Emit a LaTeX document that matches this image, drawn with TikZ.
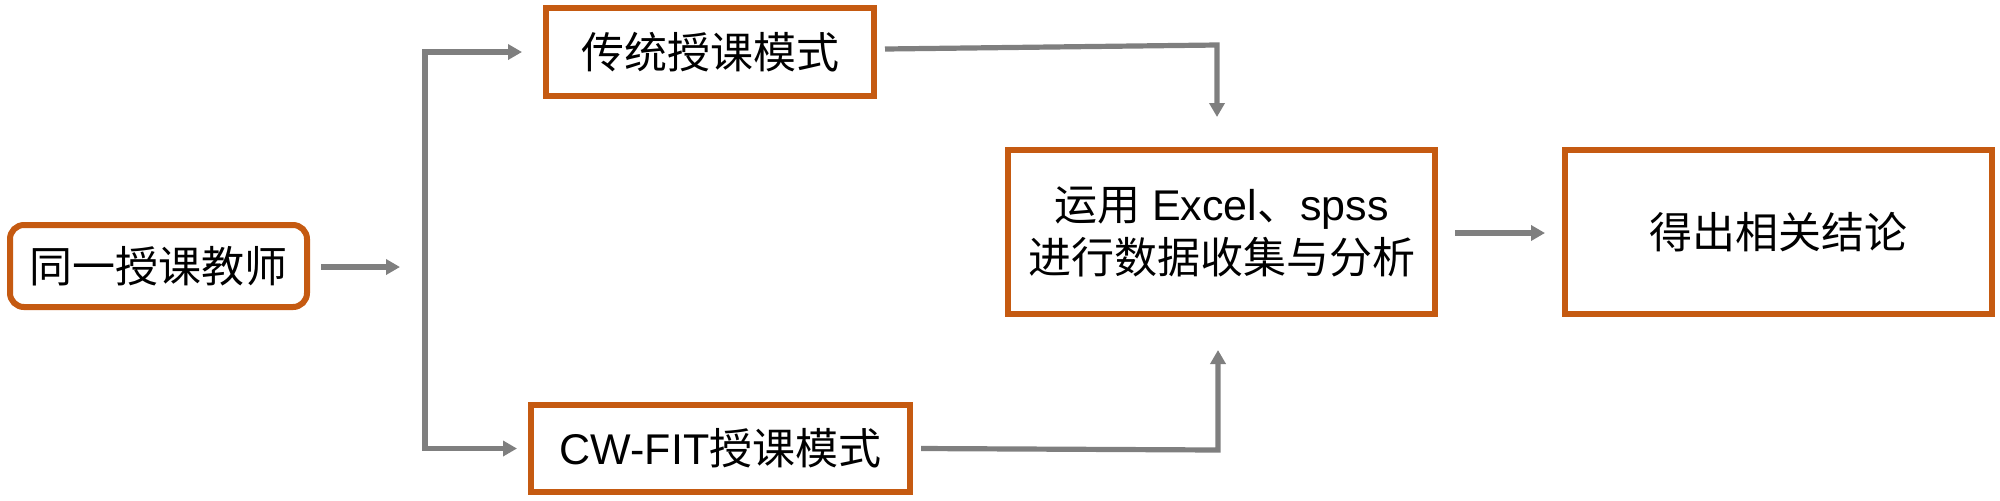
\documentclass[tikz,border=0pt]{standalone}
\usepackage{fontspec}
\setmainfont{Liberation Sans}
\newfontfamily\cjk{Noto Sans CJK SC}
\usetikzlibrary{arrows.meta}
\definecolor{boxorange}{RGB}{197,90,17}
\definecolor{conngray}{RGB}{127,127,127}
\tikzset{
  stepbox/.style={draw=boxorange, line width=3pt, fill=white, inner sep=0pt,
    align=center, font=\fontsize{21.5pt}{26.5pt}\selectfont},
  roundbox/.style={stepbox, rounded corners=7pt},
  conn/.style={draw=conngray, line width=2.6pt, line join=miter,
    -{Triangle[length=7pt,width=7.5pt]}},
  conn2/.style={draw=conngray, line width=2.6pt, line join=miter,
    {Triangle[length=7pt,width=7.5pt]}-{Triangle[length=7pt,width=7.5pt]}}
}
\begin{document}
\begin{tikzpicture}[x=0.5pt,y=-0.5pt]
\useasboundingbox (0,0) rectangle (2000,500);
\node[roundbox, minimum width=148.5pt, minimum height=41pt] (teacher) at (158.5,266) {\cjk 同一授课教师};
\node[stepbox, minimum width=164pt, minimum height=44pt] (trad) at (710,52) {\cjk 传统授课模式};
\node[stepbox, minimum width=189.5pt, minimum height=43.5pt] (cwfit) at (720.5,448.5) {CW-FIT{\cjk 授课模式}};
\node[stepbox, minimum width=213.5pt, minimum height=82pt] (anal) at (1221.5,232) {{\cjk 运用} Excel{\cjk 、}spss\\{\cjk 进行数据收集与分析}};
\node[stepbox, minimum width=213.5pt, minimum height=82pt] (concl) at (1778.5,232) {\cjk 得出相关结论};
\coordinate (t1) at (400,267);
\coordinate (vt) at (425,52);
\coordinate (vb) at (425,448.5);
\coordinate (c1) at (1217,45);
\coordinate (c2) at (1218,450);
\draw[conn] ([xshift=5.5pt,yshift=-0.5pt]teacher.east) -- (t1);
\draw[conn2] ([xshift=-10.5pt]trad.west) -- (vt) -- (vb) -- ([xshift=-5.5pt]cwfit.west);
\draw[conn] ([xshift=4pt,yshift=1.5pt]trad.east) -- (c1) -- ([yshift=15pt]c1 |- anal.north);
\draw[conn] ([xshift=4pt]cwfit.east) -- (c2) -- ([yshift=-16.5pt]c2 |- anal.south);
\draw[conn] ([xshift=8.5pt,yshift=-0.5pt]anal.east) -- ([xshift=-8.5pt,yshift=-0.5pt]concl.west);
\end{tikzpicture}
\end{document}
